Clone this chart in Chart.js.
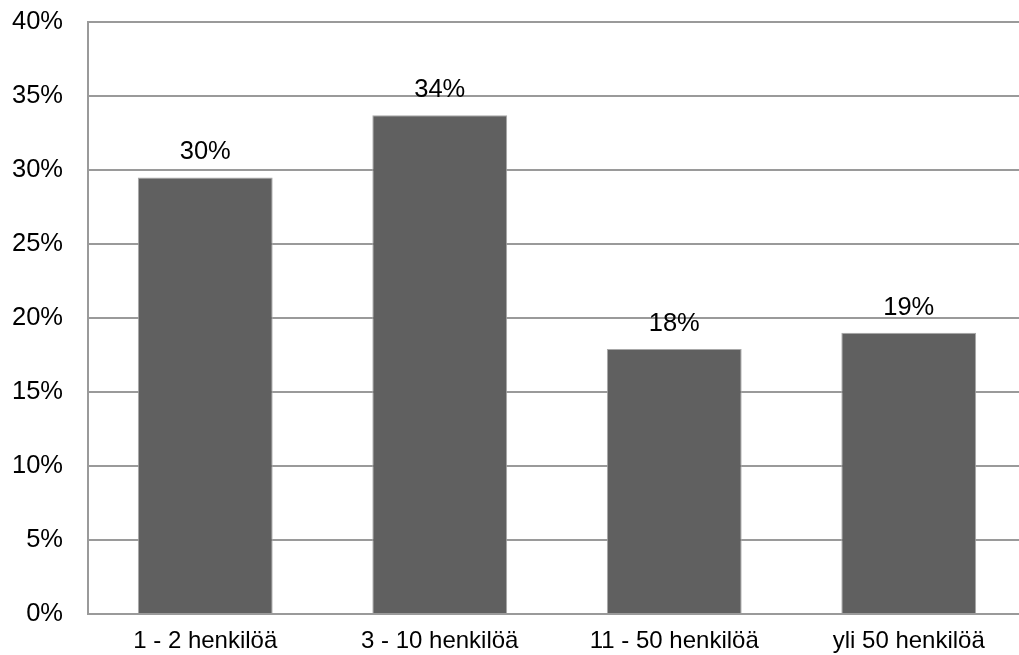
<!DOCTYPE html>
<html>
<head>
<meta charset="utf-8">
<script src="https://cdn.jsdelivr.net/npm/chart.js@4"></script>
<style>
  html, body { margin: 0; padding: 0; background: #fff; overflow: hidden; }
  #wrap { width: 1026px; height: 655px; }
</style>
</head>
<body>
<div id="wrap"><canvas id="myChart"></canvas></div>
<script>
const categories = ['1 - 2 henkilöä', '3 - 10 henkilöä', '11 - 50 henkilöä', 'yli 50 henkilöä'];
const shares = [29.5, 33.7, 17.9, 19.0];
const tickStep = 5;
const tickMax = 40;

const lineColor = '#9a9a9a';
const fontFamily = '"Liberation Sans", Arial, sans-serif';

// value labels above each bar
const valueLabels = {
    id: 'valueLabels',
    afterDatasetsDraw(chart) {
        const ctx = chart.ctx;
        const meta = chart.getDatasetMeta(0);
        ctx.save();
        ctx.font = '25.5px ' + fontFamily;
        ctx.fillStyle = '#000';
        ctx.textAlign = 'center';
        ctx.textBaseline = 'alphabetic';
        meta.data.forEach((bar, i) => {
            ctx.fillText(Math.round(shares[i]) + '%', bar.x, bar.y - 18);
        });
        ctx.restore();
    }
};

const ctx = document.getElementById('myChart');
new Chart(ctx, {
    type: 'bar',
    data: {
        labels: categories,
        datasets: [{
            data: shares,
            backgroundColor: '#606060',
            borderColor: '#a8a8a8',
            borderWidth: 1,
            barPercentage: 0.575,
            categoryPercentage: 1
        }]
    },
    options: {
        responsive: true,
        maintainAspectRatio: false,
        animation: false,
        layout: { padding: { top: 0, right: 0, left: 0, bottom: 0 } },
        plugins: {
            legend: { display: false },
            tooltip: { enabled: false }
        },
        scales: {
            x: {
                grid: { display: false, drawTicks: false },
                border: { display: true, color: lineColor, width: 2 },
                ticks: {
                    color: '#000',
                    padding: 13,
                    maxRotation: 0,
                    font: { family: fontFamily, size: 24 }
                },
                afterFit(scale) { scale.height = 41; }
            },
            y: {
                min: 0,
                max: tickMax,
                grid: { color: lineColor, lineWidth: 2, drawTicks: false },
                border: { display: true, color: lineColor, width: 2 },
                ticks: {
                    stepSize: tickStep,
                    color: '#000',
                    padding: 25,
                    font: { family: fontFamily, size: 25.5 },
                    callback: v => v + '%'
                },
                afterFit(scale) {
                    scale.width = 88;
                    scale.paddingTop = 22;
                }
            }
        }
    },
    plugins: [valueLabels]
});
</script>
</body>
</html>
